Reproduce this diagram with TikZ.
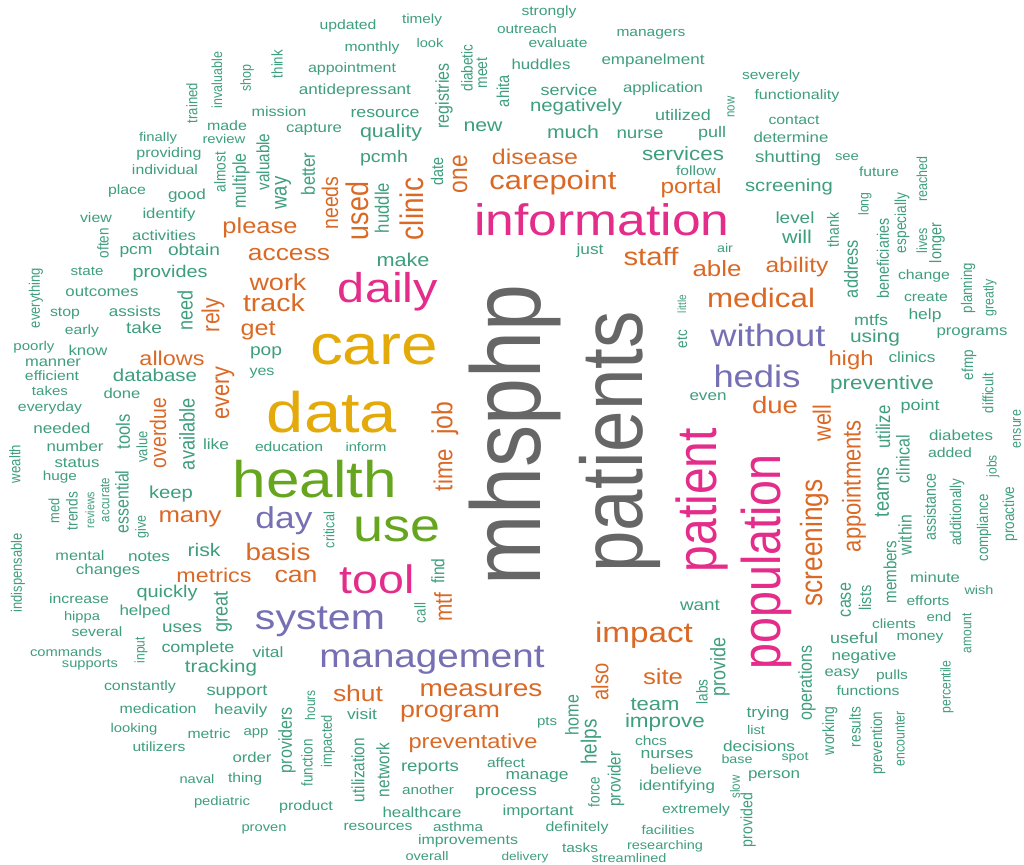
\documentclass[tikz,border=0pt]{standalone}
\usepackage{fontspec}
\setmainfont{Liberation Sans}
\usepackage{graphicx}
\definecolor{cteal}{RGB}{62,158,126}
\definecolor{corange}{RGB}{219,105,38}
\definecolor{cpurple}{RGB}{117,112,179}
\definecolor{cmagenta}{RGB}{228,44,138}
\definecolor{cgreen}{RGB}{102,166,30}
\definecolor{cgold}{RGB}{228,170,10}
\definecolor{cgrey}{RGB}{102,102,102}
\newcommand{\hw}[5]{\node[wd, text=#4] (w-#5) at (#1,#2) {\resizebox{\dimexpr #3pt*100/117\relax}{!}{#5}};}
\newcommand{\vw}[5]{\node[wd, text=#4, rotate=90] (w-#5) at (#1,#2) {\resizebox{#3pt}{!}{#5}};}
\begin{document}
\begin{tikzpicture}[x=0.854700854pt,y=-1pt,xscale=1.17,
  wd/.style={inner sep=0pt, outer sep=0pt, transform shape, anchor=center, font=\fontsize{10}{12}\selectfont}]
\fill[white] (0,0) rectangle (1024,865);
\useasboundingbox (0,0) rectangle (1024,865);
% horizontal words
\hw{348}{26}{57}{cteal}{updated}
\hw{422}{20}{40}{cteal}{timely}
\hw{549}{12}{55}{cteal}{strongly}
\hw{527}{29}{60}{cteal}{outreach}
\hw{651}{34}{69}{cteal}{managers}
\hw{558}{43}{59}{cteal}{evaluate}
\hw{372}{48}{55}{cteal}{monthly}
\hw{430}{43}{27}{cteal}{look}
\hw{352}{69}{88}{cteal}{appointment}
\hw{541}{64}{59}{cteal}{huddles}
\hw{653}{61}{103}{cteal}{empanelment}
\hw{771}{76}{58}{cteal}{severely}
\hw{355}{91}{112}{cteal}{antidepressant}
\hw{569}{90}{57}{cteal}{service}
\hw{663}{89}{80}{cteal}{application}
\hw{797}{96}{85}{cteal}{functionality}
\hw{279}{112}{55}{cteal}{mission}
\hw{385}{113}{69}{cteal}{resource}
\hw{576}{107}{92}{cteal}{negatively}
\hw{683}{115}{56}{cteal}{utilized}
\hw{794}{120}{51}{cteal}{contact}
\hw{227}{126}{40}{cteal}{made}
\hw{314}{129}{56}{cteal}{capture}
\hw{391}{133}{62}{cteal}{quality}
\hw{483}{127}{39}{cteal}{new}
\hw{573}{132}{52}{cteal}{much}
\hw{640}{134}{47}{cteal}{nurse}
\hw{712}{134}{28}{cteal}{pull}
\hw{791}{137}{75}{cteal}{determine}
\hw{158}{138}{38}{cteal}{finally}
\hw{224}{139}{43}{cteal}{review}
\hw{169}{154}{65}{cteal}{providing}
\hw{535}{157}{86}{corange}{disease}
\hw{683}{154}{82}{cteal}{services}
\hw{788}{158}{66}{cteal}{shutting}
\hw{847}{157}{24}{cteal}{see}
\hw{384}{158}{48}{cteal}{pcmh}
\hw{165}{170}{66}{cteal}{individual}
\hw{696}{171}{40}{cteal}{follow}
\hw{879}{172}{40}{cteal}{future}
\hw{553}{183}{127}{corange}{carepoint}
\hw{691}{188}{61}{corange}{portal}
\hw{789}{187}{88}{cteal}{screening}
\hw{127}{191}{38}{cteal}{place}
\hw{187}{196}{38}{cteal}{good}
\hw{169}{215}{53}{cteal}{identify}
\hw{96}{218}{32}{cteal}{view}
\hw{795}{218}{39}{cteal}{level}
\hw{602}{220}{255}{cmagenta}{information}
\hw{260}{228}{75}{corange}{please}
\hw{164}{235}{64}{cteal}{activities}
\hw{797}{237}{30}{cteal}{will}
\hw{725}{248}{16}{cteal}{air}
\hw{590}{251}{27}{cteal}{just}
\hw{194}{250}{52}{cteal}{obtain}
\hw{136}{252}{33}{cteal}{pcm}
\hw{289}{255}{82}{corange}{access}
\hw{651}{257}{55}{corange}{staff}
\hw{403}{260}{53}{cteal}{make}
\hw{797}{267}{63}{corange}{ability}
\hw{717}{269}{49}{corange}{able}
\hw{87}{271}{33}{cteal}{state}
\hw{170}{273}{75}{cteal}{provides}
\hw{924}{276}{52}{cteal}{change}
\hw{278}{282}{57}{corange}{work}
\hw{388}{292}{100}{cmagenta}{daily}
\hw{102}{292}{73}{cteal}{outcomes}
\hw{926}{297}{44}{cteal}{create}
\hw{761}{298}{108}{corange}{medical}
\hw{274}{303}{62}{corange}{track}
\hw{135}{311}{52}{cteal}{assists}
\hw{65}{314}{30}{cteal}{stop}
\hw{925}{316}{33}{cteal}{help}
\hw{871}{320}{34}{cteal}{mtfs}
\hw{144}{328}{36}{cteal}{take}
\hw{82}{331}{34}{cteal}{early}
\hw{258}{331}{35}{corange}{get}
\hw{768}{335}{115}{cpurple}{without}
\hw{972}{333}{71}{cteal}{programs}
\hw{875}{338}{50}{cteal}{using}
\hw{34}{347}{41}{cteal}{poorly}
\hw{88}{350}{39}{cteal}{know}
\hw{374}{350}{128}{cgold}{care}
\hw{266}{353}{32}{cteal}{pop}
\hw{172}{358}{65}{corange}{allows}
\hw{912}{357}{47}{cteal}{clinics}
\hw{851}{360}{45}{corange}{high}
\hw{53}{363}{56}{cteal}{manner}
\hw{262}{373}{25}{cteal}{yes}
\hw{757}{376}{87}{cpurple}{hedis}
\hw{52}{376}{54}{cteal}{efficient}
\hw{155}{375}{84}{cteal}{database}
\hw{882}{385}{104}{cteal}{preventive}
\hw{50}{391}{36}{cteal}{takes}
\hw{122}{393}{37}{cteal}{done}
\hw{708}{397}{37}{cteal}{even}
\hw{775}{405}{46}{corange}{due}
\hw{920}{407}{39}{cteal}{point}
\hw{50}{408}{64}{cteal}{everyday}
\hw{332}{412}{130}{cgold}{data}
\hw{62}{428}{57}{cteal}{needed}
\hw{961}{435}{64}{cteal}{diabetes}
\hw{216}{444}{26}{cteal}{like}
\hw{75}{446}{57}{cteal}{number}
\hw{289}{447}{68}{cteal}{education}
\hw{366}{447}{41}{cteal}{inform}
\hw{950}{453}{44}{cteal}{added}
\hw{77}{463}{45}{cteal}{status}
\hw{60}{477}{34}{cteal}{huge}
\hw{315}{479}{164}{cgreen}{health}
\hw{171}{494}{44}{cteal}{keep}
\hw{190}{519}{63}{corange}{many}
\hw{284}{521}{57}{cpurple}{day}
\hw{397}{529}{87}{cgreen}{use}
\hw{204}{550}{33}{cteal}{risk}
\hw{278}{552}{65}{corange}{basis}
\hw{80}{556}{49}{cteal}{mental}
\hw{149}{557}{42}{cteal}{notes}
\hw{108}{571}{64}{cteal}{changes}
\hw{214}{575}{75}{corange}{metrics}
\hw{296}{576}{43}{corange}{can}
\hw{377}{579}{75}{cmagenta}{tool}
\hw{935}{577}{50}{cteal}{minute}
\hw{167}{593}{61}{cteal}{quickly}
\hw{79}{599}{60}{cteal}{increase}
\hw{979}{590}{29}{cteal}{wish}
\hw{928}{601}{43}{cteal}{efforts}
\hw{700}{605}{40}{cteal}{want}
\hw{145}{612}{51}{cteal}{helped}
\hw{82}{617}{36}{cteal}{hippa}
\hw{939}{617}{25}{cteal}{end}
\hw{320}{622}{130}{cpurple}{system}
\hw{894}{624}{44}{cteal}{clients}
\hw{182}{628}{40}{cteal}{uses}
\hw{97}{632}{51}{cteal}{several}
\hw{644}{635}{98}{corange}{impact}
\hw{854}{638}{48}{cteal}{useful}
\hw{920}{638}{47}{cteal}{money}
\hw{198}{649}{73}{cteal}{complete}
\hw{268}{652}{31}{cteal}{vital}
\hw{66}{652}{72}{cteal}{commands}
\hw{864}{657}{65}{cteal}{negative}
\hw{432}{660}{225}{cpurple}{management}
\hw{90}{665}{56}{cteal}{supports}
\hw{221}{668}{72}{cteal}{tracking}
\hw{842}{674}{35}{cteal}{easy}
\hw{892}{676}{32}{cteal}{pulls}
\hw{663}{677}{40}{corange}{site}
\hw{140}{687}{72}{cteal}{constantly}
\hw{481}{690}{123}{corange}{measures}
\hw{868}{691}{63}{cteal}{functions}
\hw{237}{692}{61}{cteal}{support}
\hw{358}{693}{50}{corange}{shut}
\hw{655}{704}{49}{cteal}{team}
\hw{158}{709}{77}{cteal}{medication}
\hw{241}{711}{53}{cteal}{heavily}
\hw{362}{714}{30}{cteal}{visit}
\hw{450}{714}{100}{corange}{program}
\hw{768}{714}{43}{cteal}{trying}
\hw{665}{723}{80}{cteal}{improve}
\hw{547}{723}{20}{cteal}{pts}
\hw{134}{729}{47}{cteal}{looking}
\hw{756}{730}{18}{cteal}{list}
\hw{256}{733}{25}{cteal}{app}
\hw{209}{734}{43}{cteal}{metric}
\hw{651}{741}{32}{cteal}{chcs}
\hw{473}{743}{129}{corange}{preventative}
\hw{759}{746}{72}{cteal}{decisions}
\hw{159}{747}{53}{cteal}{utilizers}
\hw{667}{755}{53}{cteal}{nurses}
\hw{252}{757}{39}{cteal}{order}
\hw{795}{758}{27}{cteal}{spot}
\hw{737}{759}{31}{cteal}{base}
\hw{506}{763}{38}{cteal}{affect}
\hw{430}{768}{58}{cteal}{reports}
\hw{676}{769}{52}{cteal}{believe}
\hw{774}{776}{52}{cteal}{person}
\hw{537}{777}{63}{cteal}{manage}
\hw{197}{779}{35}{cteal}{naval}
\hw{245}{779}{34}{cteal}{thing}
\hw{677}{787}{76}{cteal}{identifying}
\hw{428}{790}{52}{cteal}{another}
\hw{506}{793}{62}{cteal}{process}
\hw{222}{802}{56}{cteal}{pediatric}
\hw{306}{807}{54}{cteal}{product}
\hw{422}{812}{79}{cteal}{healthcare}
\hw{696}{810}{68}{cteal}{extremely}
\hw{538}{812}{71}{cteal}{important}
\hw{577}{828}{63}{cteal}{definitely}
\hw{378}{827}{69}{cteal}{resources}
\hw{458}{827}{50}{cteal}{asthma}
\hw{668}{830}{53}{cteal}{facilities}
\hw{264}{829}{45}{cteal}{proven}
\hw{468}{841}{100}{cteal}{improvements}
\hw{665}{846}{76}{cteal}{researching}
\hw{580}{848}{36}{cteal}{tasks}
\hw{427}{856}{43}{cteal}{overall}
\hw{525}{857}{47}{cteal}{delivery}
\hw{629}{858}{75}{cteal}{streamlined}
% vertical words
\vw{192}{103}{40}{cteal}{trained}
\vw{217}{80}{56}{cteal}{invaluable}
\vw{247}{78}{27}{cteal}{shop}
\vw{277}{64}{28}{cteal}{think}
\vw{444}{96}{65}{cteal}{registries}
\vw{467}{68}{47}{cteal}{diabetic}
\vw{482}{73}{31}{cteal}{meet}
\vw{503}{91}{32}{cteal}{ahita}
\vw{731}{107}{21}{cteal}{now}
\vw{220}{172}{40}{cteal}{almost}
\vw{241}{181}{55}{cteal}{multiple}
\vw{263}{162}{57}{cteal}{valuable}
\vw{308}{174}{42}{cteal}{better}
\vw{283}{193}{33}{cteal}{way}
\vw{330}{203}{53}{corange}{needs}
\vw{357}{211}{58}{corange}{used}
\vw{382}{208}{50}{cteal}{huddle}
\vw{412}{209}{62}{corange}{clinic}
\vw{437}{171}{28}{cteal}{date}
\vw{460}{174}{38}{corange}{one}
\vw{103}{243}{30}{cteal}{often}
\vw{922}{179}{45}{cteal}{reached}
\vw{865}{204}{23}{cteal}{long}
\vw{833}{230}{34}{cteal}{thank}
\vw{902}{223}{60}{cteal}{especially}
\vw{883}{258}{80}{cteal}{beneficiaries}
\vw{922}{241}{25}{cteal}{lives}
\vw{937}{243}{40}{cteal}{longer}
\vw{851}{269}{58}{cteal}{address}
\vw{968}{288}{50}{cteal}{planning}
\vw{990}{298}{37}{cteal}{greatly}
\vw{36}{298}{60}{cteal}{everything}
\vw{185}{310}{40}{cteal}{need}
\vw{213}{315}{34}{corange}{rely}
\vw{225}{393}{53}{corange}{every}
\vw{682}{304}{18}{cteal}{little}
\vw{682}{339}{18}{cteal}{etc}
\vw{969}{365}{30}{cteal}{efmp}
\vw{988}{393}{40}{cteal}{difficult}
\vw{158}{433}{70}{corange}{overdue}
\vw{187}{434}{72}{cteal}{available}
\vw{123}{432}{35}{cteal}{tools}
\vw{142}{447}{31}{cteal}{value}
\vw{822}{423}{37}{corange}{well}
\vw{883}{427}{43}{cteal}{utilize}
\vw{1017}{429}{38}{cteal}{ensure}
\vw{445}{418}{33}{corange}{job}
\vw{443}{470}{42}{corange}{time}
\vw{903}{459}{48}{cteal}{clinical}
\vw{15}{464}{38}{cteal}{wealth}
\vw{993}{466}{22}{cteal}{jobs}
\vw{854}{486}{132}{corange}{appointments}
\vw{882}{492}{50}{cteal}{teams}
\vw{702}{500}{144}{cmagenta}{patient}
\vw{122}{502}{63}{cteal}{essential}
\vw{105}{500}{44}{cteal}{accurate}
\vw{90}{510}{36}{cteal}{reviews}
\vw{72}{511}{38}{cteal}{trends}
\vw{54}{511}{25}{cteal}{med}
\vw{930}{507}{67}{cteal}{assistance}
\vw{957}{512}{67}{cteal}{additionally}
\vw{1010}{514}{55}{cteal}{proactive}
\vw{984}{528}{67}{cteal}{compliance}
\vw{142}{527}{23}{cteal}{give}
\vw{329}{530}{36}{cteal}{critical}
\vw{905}{535}{40}{cteal}{within}
\vw{815}{543}{127}{corange}{screenings}
\vw{766}{562}{215}{cmagenta}{population}
\vw{890}{572}{63}{cteal}{members}
\vw{18}{573}{79}{cteal}{indispensable}
\vw{438}{571}{25}{cteal}{find}
\vw{846}{600}{34}{cteal}{case}
\vw{865}{598}{25}{cteal}{lists}
\vw{223}{612}{41}{cteal}{great}
\vw{443}{607}{29}{corange}{mtf}
\vw{420}{613}{20}{cteal}{call}
\vw{967}{633}{40}{cteal}{amount}
\vw{141}{650}{26}{cteal}{input}
\vw{720}{667}{59}{cteal}{provide}
\vw{600}{682}{37}{corange}{also}
\vw{702}{692}{25}{cteal}{labs}
\vw{807}{683}{75}{cteal}{operations}
\vw{947}{687}{53}{cteal}{percentile}
\vw{310}{705}{30}{cteal}{hours}
\vw{572}{715}{40}{cteal}{home}
\vw{287}{740}{66}{cteal}{providers}
\vw{328}{741}{52}{cteal}{impacted}
\vw{591}{742}{45}{cteal}{helps}
\vw{307}{763}{47}{cteal}{function}
\vw{358}{770}{64}{cteal}{utilization}
\vw{383}{770}{54}{cteal}{network}
\vw{616}{779}{55}{cteal}{provider}
\vw{830}{731}{48}{cteal}{working}
\vw{855}{727}{40}{cteal}{results}
\vw{878}{743}{63}{cteal}{prevention}
\vw{900}{739}{55}{cteal}{encounter}
\vw{594}{792}{30}{cteal}{force}
\vw{735}{787}{23}{cteal}{slow}
\vw{748}{820}{54}{cteal}{provided}
\vw{515}{435}{300}{cgrey}{mhsphp}
\vw{620}{442}{261}{cgrey}{patients}
\end{tikzpicture}
\end{document}
